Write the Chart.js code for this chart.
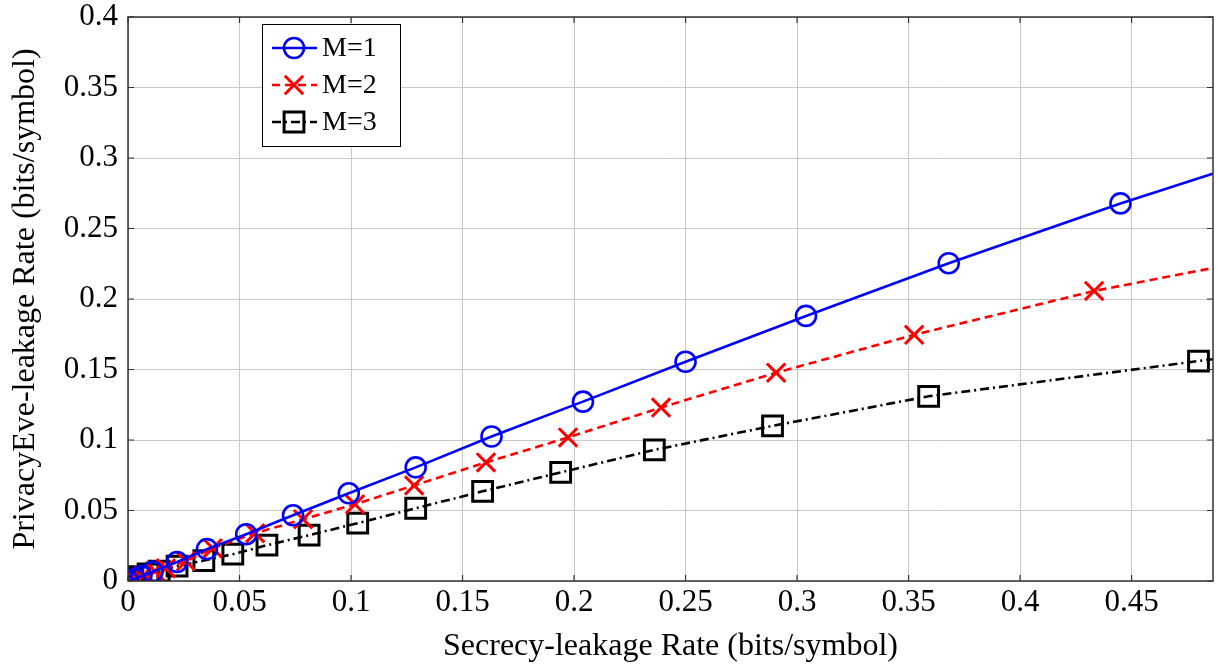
<!DOCTYPE html>
<html><head><meta charset="utf-8">
<script src="https://cdn.jsdelivr.net/npm/chart.js@4.4.1/dist/chart.umd.min.js"></script>
<style>html,body{margin:0;padding:0;background:#fff;overflow:hidden}canvas{display:block}</style>
</head><body><canvas id="c" width="1218" height="668" style="width:1218px;height:668px"></canvas>
<script>
const seriesLabels = ['M=1', 'M=2', 'M=3'];
const m1X = [0, 0.003, 0.006, 0.011, 0.022, 0.0354, 0.053, 0.074, 0.099, 0.129, 0.163, 0.204, 0.250, 0.304, 0.368, 0.445, 0.54];
const m1Y = [0, 0.0015, 0.0035, 0.0065, 0.0135, 0.0226, 0.0332, 0.0466, 0.0622, 0.0806, 0.1025, 0.1272, 0.1555, 0.1880, 0.2254, 0.2678, 0.3163];
const m2X = [0, 0.003, 0.007, 0.012, 0.017, 0.026, 0.038, 0.057, 0.0785, 0.1018, 0.1283, 0.1605, 0.1973, 0.239, 0.2906, 0.3525, 0.4332, 0.53];
const m2Y = [0, 0.0015, 0.004, 0.007, 0.009, 0.014, 0.0233, 0.0339, 0.0438, 0.0544, 0.0678, 0.0841, 0.1018, 0.123, 0.1477, 0.1746, 0.2057, 0.2353];
const m3X = [0, 0.002, 0.005, 0.009, 0.014, 0.022, 0.034, 0.047, 0.0623, 0.0812, 0.103, 0.129, 0.159, 0.194, 0.236, 0.289, 0.359, 0.480, 0.60];
const m3Y = [0, 0.0015, 0.003, 0.005, 0.007, 0.0105, 0.0145, 0.019, 0.0254, 0.0325, 0.041, 0.0516, 0.0636, 0.077, 0.093, 0.110, 0.131, 0.156, 0.18];
const xTicks = [0, 0.05, 0.1, 0.15, 0.2, 0.25, 0.3, 0.35, 0.4, 0.45];
const yTicks = [0, 0.05, 0.1, 0.15, 0.2, 0.25, 0.3, 0.35, 0.4];
const xTitle = 'Secrecy-leakage Rate (bits/symbol)';
const yTitle = 'PrivacyEve-leakage Rate (bits/symbol)';

const FONT = '"Liberation Serif", "Times New Roman", serif';
const toPts = (xs, ys) => xs.map((x, i) => ({x: x, y: ys[i]}));
const zeroPad = s => { s.paddingTop = 0; s.paddingBottom = 0; s.paddingLeft = 0; s.paddingRight = 0; };

const fixArea = {
  id: 'fixArea',
  afterLayout(chart) {
    const R = chart.width - 5;
    const a = chart.chartArea;
    a.right = R; a.width = R - a.left;
    const x = chart.scales.x;
    x.right = R; x.width = R - x.left;
    x.configure();
  }
};

const frameP = {
  id: 'frame',
  afterDatasetsDraw(chart) {
    const {ctx, chartArea: a, scales} = chart;
    ctx.save();
    ctx.strokeStyle = '#333';
    ctx.lineWidth = 1.2;
    const tl = 6;
    ctx.beginPath();
    xTicks.forEach(v => {
      const px = scales.x.getPixelForValue(v);
      ctx.moveTo(px, a.bottom); ctx.lineTo(px, a.bottom - tl);
      ctx.moveTo(px, a.top); ctx.lineTo(px, a.top + tl);
    });
    yTicks.forEach(v => {
      const py = scales.y.getPixelForValue(v);
      ctx.moveTo(a.left, py); ctx.lineTo(a.left + tl, py);
      ctx.moveTo(a.right, py); ctx.lineTo(a.right - tl, py);
    });
    ctx.stroke();
    ctx.lineWidth = 1.5;
    ctx.strokeRect(a.left, a.top, a.right - a.left, a.bottom - a.top);
    ctx.restore();
  },
  afterDraw(chart) {
    const {ctx, chartArea: a} = chart;
    const ds = chart.data.datasets;
    const bx = a.left + 134, by = a.top + 7, bw = 138, bh = 122;
    ctx.save();
    ctx.fillStyle = '#fff';
    ctx.fillRect(bx, by, bw, bh);
    ctx.strokeStyle = '#000';
    ctx.lineWidth = 1;
    ctx.strokeRect(bx + 0.5, by + 0.5, bw, bh);
    ds.forEach((d, i) => {
      const cy = by + 24 + i * 37;
      ctx.strokeStyle = d.borderColor;
      ctx.lineWidth = d.borderWidth;
      ctx.setLineDash(d.borderDash || []);
      ctx.beginPath();
      ctx.moveTo(bx + 10, cy); ctx.lineTo(bx + 55, cy);
      ctx.stroke();
      ctx.setLineDash([]);
      ctx.fillStyle = 'rgba(0,0,0,0)';
      ctx.strokeStyle = d.pointBorderColor;
      ctx.lineWidth = d.pointBorderWidth;
      Chart.helpers.drawPoint(ctx, {pointStyle: d.pointStyle, radius: d.pointRadius, borderWidth: d.pointBorderWidth, rotation: 0}, bx + 32, cy);
      ctx.fillStyle = '#000';
      ctx.font = '28px ' + FONT;
      ctx.textBaseline = 'middle';
      ctx.fillText(d.label, bx + 60, cy + 1);
    });
    ctx.restore();
  }
};

new Chart(document.getElementById('c'), {
  type: 'line',
  data: {
    datasets: [
      {label: seriesLabels[0], data: toPts(m1X, m1Y), borderColor: '#0000ff', borderWidth: 2.6,
       pointStyle: 'circle', pointRadius: 10, pointBorderColor: '#0000ff', pointBorderWidth: 2.6,
       pointBackgroundColor: 'rgba(0,0,0,0)', fill: false, tension: 0},
      {label: seriesLabels[1], data: toPts(m2X, m2Y), borderColor: '#ff0000', borderWidth: 2.6, borderDash: [8, 5],
       pointStyle: 'crossRot', pointRadius: 13, pointBorderColor: '#ff0000', pointBorderWidth: 3,
       pointBackgroundColor: 'rgba(0,0,0,0)', fill: false, tension: 0},
      {label: seriesLabels[2], data: toPts(m3X, m3Y), borderColor: '#000000', borderWidth: 2.6, borderDash: [9, 4, 2, 4],
       pointStyle: 'rect', pointRadius: 14, pointBorderColor: '#000000', pointBorderWidth: 3,
       pointBackgroundColor: 'rgba(0,0,0,0)', fill: false, tension: 0}
    ]
  },
  options: {
    responsive: false, animation: false, devicePixelRatio: 1,
    layout: {padding: {left: 0, right: 5, top: 15, bottom: 0}},
    plugins: {legend: {display: false}, tooltip: {enabled: false}},
    scales: {
      x: {
        type: 'linear', min: 0, max: 0.4865,
        afterBuildTicks: s => { s.ticks = xTicks.map(v => ({value: v})); },
        afterFit: s => { s.height = 87; zeroPad(s); },
        grid: {color: '#c8c8c8', lineWidth: 1, tickLength: 0, drawTicks: false},
        border: {display: false},
        ticks: {color: '#000', font: {family: FONT, size: 31}, padding: 3, maxRotation: 0,
                callback: v => String(+Number(v).toFixed(2))},
        title: {display: true, text: xTitle, color: '#000', font: {family: FONT, size: 32}, padding: {top: 0, bottom: 2}}
      },
      y: {
        type: 'linear', min: 0, max: 0.4,
        afterBuildTicks: s => { s.ticks = yTicks.map(v => ({value: v})); },
        afterFit: s => { s.width = 128; zeroPad(s); },
        grid: {color: '#c8c8c8', lineWidth: 1, tickLength: 0, drawTicks: false},
        border: {display: false},
        ticks: {color: '#000', font: {family: FONT, size: 31}, padding: 10,
                callback: v => String(+Number(v).toFixed(2))},
        title: {display: true, text: yTitle, color: '#000', font: {family: FONT, size: 32}, padding: {top: 6, bottom: 0}}
      }
    }
  },
  plugins: [fixArea, frameP]
});
</script>
</body></html>
